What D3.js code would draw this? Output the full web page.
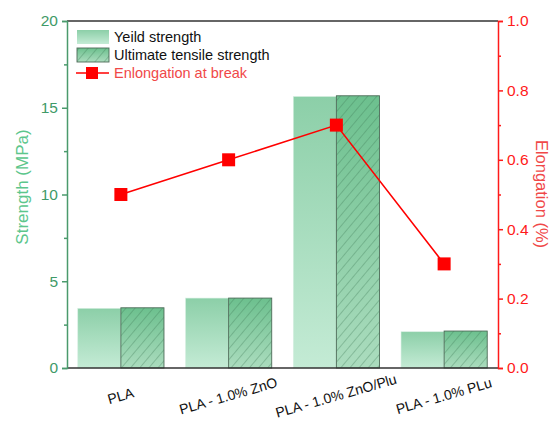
<!DOCTYPE html>
<html>
<head>
<meta charset="utf-8">
<script src="https://cdn.jsdelivr.net/npm/d3@7"></script>
<style>
  html, body { margin: 0; padding: 0; background: #fff; }
  svg { display: block; font-family: "Liberation Sans", Arial, sans-serif; }
</style>
</head>
<body>
<svg id="chart" width="552" height="423"></svg>
<script>
// Mechanical properties of PLA composites
const categories = ["PLA", "PLA - 1.0% ZnO", "PLA - 1.0% ZnO/Plu", "PLA - 1.0% PLu"];
const yieldStrength = [3.44, 4.03, 15.65, 2.09];
const tensileStrength = [3.47, 4.03, 15.69, 2.13];
const elongation = [0.5, 0.6, 0.7, 0.3];
const leftTicks = [0, 5, 10, 15, 20];
const rightTicks = [0.0, 0.2, 0.4, 0.6, 0.8, 1.0];

const svg = d3.select("#chart");
const m = { left: 67, right: 498, top: 21, bottom: 368 };

const x = d3.scaleBand().domain(categories).range([m.left, m.right]).paddingInner(0.2).paddingOuter(0.1);
const sub = d3.scaleBand().domain(["yield", "uts"]).range([0, x.bandwidth()]);
const yL = d3.scaleLinear().domain([0, 20]).range([m.bottom, m.top]);
const yR = d3.scaleLinear().domain([0, 1]).range([m.bottom, m.top]);

const defs = svg.append("defs");
const g1 = defs.append("linearGradient").attr("id", "gYield").attr("x1", 0).attr("y1", 0).attr("x2", 0).attr("y2", 1);
g1.append("stop").attr("offset", "0%").attr("stop-color", "#8ccfa8");
g1.append("stop").attr("offset", "100%").attr("stop-color", "#c4ebd5");
const g2 = defs.append("linearGradient").attr("id", "gUts").attr("x1", 0).attr("y1", 0).attr("x2", 0).attr("y2", 1);
g2.append("stop").attr("offset", "0%").attr("stop-color", "#6cc08e");
g2.append("stop").attr("offset", "100%").attr("stop-color", "#abdcbe");
const hatch = defs.append("pattern").attr("id", "hatch").attr("patternUnits", "userSpaceOnUse")
  .attr("width", 7).attr("height", 7).attr("patternTransform", "rotate(40)");
hatch.append("line").attr("x1", 0).attr("y1", 0).attr("x2", 0).attr("y2", 7)
  .attr("stroke", "#3e7a55").attr("stroke-opacity", 0.75).attr("stroke-width", 0.9);

// bars
const grp = svg.append("g");
categories.forEach((c, i) => {
  const x0 = x(c);
  grp.append("rect")
    .attr("x", x0 + sub("yield")).attr("y", yL(yieldStrength[i]))
    .attr("width", sub.bandwidth()).attr("height", yL(0) - yL(yieldStrength[i]))
    .attr("fill", "url(#gYield)").attr("stroke", "#d8efe2").attr("stroke-width", 0.6);
  const bx = x0 + sub("uts"), by = yL(tensileStrength[i]);
  const bw = sub.bandwidth(), bh = yL(0) - yL(tensileStrength[i]);
  grp.append("rect").attr("x", bx).attr("y", by).attr("width", bw).attr("height", bh)
    .attr("fill", "url(#gUts)");
  grp.append("rect").attr("x", bx).attr("y", by).attr("width", bw).attr("height", bh)
    .attr("fill", "url(#hatch)").attr("stroke", "#4d6b58").attr("stroke-width", 0.9);
});

// top frame line and bottom axis line
svg.append("line").attr("x1", m.left).attr("x2", m.right).attr("y1", m.top).attr("y2", m.top)
  .attr("stroke", "#333").attr("stroke-width", 1.6);
svg.append("line").attr("x1", m.left).attr("x2", m.right).attr("y1", m.bottom).attr("y2", m.bottom)
  .attr("stroke", "#333").attr("stroke-width", 1.6);

// left axis
const green = "#4a9a6c";
const axL = svg.append("g").attr("transform", `translate(${m.left},0)`)
  .call(d3.axisLeft(yL).tickValues(leftTicks).tickFormat(d3.format("d")).tickSize(5).tickPadding(4));
axL.select(".domain").attr("stroke", green).attr("stroke-width", 1.5);
axL.selectAll(".tick line").attr("stroke", green).attr("stroke-width", 1.5);
axL.selectAll("text").attr("fill", "#3f9a68").attr("font-size", 15.5).attr("font-family", "Liberation Sans, Arial, sans-serif");
const minorL = svg.append("g").attr("transform", `translate(${m.left},0)`)
  .call(d3.axisLeft(yL).tickValues([2.5, 7.5, 12.5, 17.5]).tickFormat("").tickSize(3));
minorL.select(".domain").remove();
minorL.selectAll(".tick line").attr("stroke", green).attr("stroke-width", 1.5);

// right axis
const red = "#ff1a1a";
const axR = svg.append("g").attr("transform", `translate(${m.right},0)`)
  .call(d3.axisRight(yR).tickValues(rightTicks).tickFormat(d3.format(".1f")).tickSize(5).tickPadding(4));
axR.select(".domain").attr("stroke", red).attr("stroke-width", 1.5);
axR.selectAll(".tick line").attr("stroke", red).attr("stroke-width", 1.5);
axR.selectAll("text").attr("fill", red).attr("font-size", 15.5).attr("font-family", "Liberation Sans, Arial, sans-serif");
const minorR = svg.append("g").attr("transform", `translate(${m.right},0)`)
  .call(d3.axisRight(yR).tickValues([0.1, 0.3, 0.5, 0.7, 0.9]).tickFormat("").tickSize(3));
minorR.select(".domain").remove();
minorR.selectAll(".tick line").attr("stroke", red).attr("stroke-width", 1.5);

// category labels
categories.forEach(c => {
  const cx = x(c) + x.bandwidth() / 2;
  svg.append("text").attr("x", cx).attr("y", 397)
    .attr("text-anchor", "middle").attr("dominant-baseline", "middle")
    .attr("transform", `rotate(-16,${cx},397)`)
    .attr("font-size", 14).attr("fill", "#111").text(c);
});

// axis titles
svg.append("text").attr("transform", `translate(28,187) rotate(-90)`)
  .attr("text-anchor", "middle").attr("font-size", 17).attr("fill", "#5cc68c").text("Strength (MPa)");
svg.append("text").attr("transform", `translate(536,194) rotate(90)`)
  .attr("text-anchor", "middle").attr("font-size", 16.5).attr("fill", "#f04848").text("Elongation (%)");

// elongation line
const cxOf = c => x(c) + x.bandwidth() / 2;
const line = d3.line().x((d, i) => cxOf(categories[i])).y(d => yR(d));
svg.append("path").datum(elongation).attr("d", line)
  .attr("fill", "none").attr("stroke", "#ff0000").attr("stroke-width", 1.6);
svg.selectAll(".pt").data(elongation).enter().append("rect")
  .attr("x", (d, i) => cxOf(categories[i]) - 6.5).attr("y", d => yR(d) - 6.5)
  .attr("width", 13).attr("height", 13).attr("fill", "#ff0000");

// legend
const lg = svg.append("g");
lg.append("rect").attr("x", 77).attr("y", 30).attr("width", 32).attr("height", 14).attr("fill", "url(#gYield)");
lg.append("text").attr("x", 114).attr("y", 42).attr("font-size", 14.5).attr("fill", "#111").text("Yeild strength");
lg.append("rect").attr("x", 77).attr("y", 48).attr("width", 32).attr("height", 14).attr("fill", "url(#gUts)");
lg.append("rect").attr("x", 77).attr("y", 48).attr("width", 32).attr("height", 14)
  .attr("fill", "url(#hatch)").attr("stroke", "#4d6b58").attr("stroke-width", 0.9);
lg.append("text").attr("x", 114).attr("y", 60).attr("font-size", 14.5).attr("fill", "#111").text("Ultimate tensile strength");
lg.append("line").attr("x1", 76).attr("x2", 109).attr("y1", 73).attr("y2", 73).attr("stroke", "#ff0000").attr("stroke-width", 1.6);
lg.append("rect").attr("x", 86).attr("y", 67).attr("width", 12).attr("height", 12).attr("fill", "#ff0000");
lg.append("text").attr("x", 114).attr("y", 78).attr("font-size", 14.5).attr("fill", "#f04848").text("Enlongation at break");
</script>
</body>
</html>
